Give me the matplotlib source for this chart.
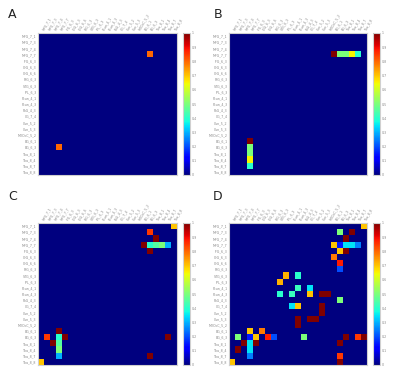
import numpy as np
import matplotlib
matplotlib.use("Agg")
import matplotlib.pyplot as plt

labels = ["MFG_7_1", "MFG_7_3", "MFG_7_4", "MFG_7_7", "IFG_6_3", "OrG_6_3", "OrG_6_6",
          "PrG_6_3", "STG_6_3", "IPL_6_3", "Pcun_4_1", "Pcun_4_3", "PoG_4_3", "CG_7_4",
          "Cun_5_2", "Cun_5_3", "MVOcC_5_2", "BG_6_1", "BG_6_3", "Tha_8_1", "Tha_8_4",
          "Tha_8_7", "Tha_8_8"]

# upper-triangle entries (row, col, value); matrices are symmetric
a_rows = [3]
a_cols = [18]
a_vals = [0.8]

b_rows = [3, 3, 3, 3, 3]
b_cols = [17, 18, 19, 20, 21]
b_vals = [1.0, 0.5, 0.5, 0.65, 0.4]

c_rows = [0, 1, 2, 3, 3, 3, 3, 3, 4, 18]
c_cols = [22, 18, 19, 17, 18, 19, 20, 21, 18, 21]
c_vals = [0.7, 0.85, 1.0, 1.0, 0.4, 0.45, 0.5, 0.3, 1.0, 1.0]

d_rows = [0, 1, 1, 2, 3, 3, 3, 3, 3, 4, 4, 5, 6, 7, 8, 8, 10, 10, 11, 11, 11, 12, 13, 14, 18, 18, 18]
d_cols = [22, 18, 20, 19, 17, 18, 19, 20, 21, 18, 19, 17, 18, 18, 9, 11, 11, 13, 13, 15, 16, 18, 15, 15, 19, 21, 22]
d_vals = [0.7, 0.5, 1.0, 1.0, 0.7, 0.15, 0.35, 0.35, 0.25, 0.7, 1.0, 0.78, 0.88, 0.2,
          0.72, 0.4, 0.42, 0.35, 0.7, 1.0, 1.0, 0.5, 1.0, 1.0, 1.0, 0.85, 1.0]

panels = [("A", a_rows, a_cols, a_vals), ("B", b_rows, b_cols, b_vals),
          ("C", c_rows, c_cols, c_vals), ("D", d_rows, d_cols, d_vals)]

W, H = 400, 374
fig = plt.figure(figsize=(W / 100, H / 100), dpi=100)

# pixel boxes: (x0, y0, x1, y1) for image, colorbar x-range, label pos
boxes = [((38, 33, 177, 175), (183, 190), (12, 14)),
         ((229, 33, 367, 175), (373, 380), (218, 14)),
         ((38, 223, 177, 365), (183, 190), (13, 197)),
         ((229, 223, 367, 365), (373, 380), (218, 197))]

def rect(x0, y0, x1, y1):
    return [x0 / W, 1 - y1 / H, (x1 - x0) / W, (y1 - y0) / H]

n = len(labels)
edge = "#d0d0d0"
for (name, rs, cs, vs), (ib, cb, lp) in zip(panels, boxes):
    m = np.zeros((n, n))
    for r, c, v in zip(rs, cs, vs):
        m[r, c] = v
        m[c, r] = v
    ax = fig.add_axes(rect(*ib))
    im = ax.imshow(m, cmap="jet", vmin=0, vmax=1, interpolation="nearest", aspect="auto")
    ax.xaxis.tick_top()
    ax.set_xticks(range(n))
    ax.set_xticklabels(labels, rotation=60, ha="left", va="bottom", fontsize=2.3, color="#888888")
    ax.set_yticks(range(n))
    ax.set_yticklabels(labels, fontsize=2.3, color="#888888")
    ax.tick_params(length=0, pad=1)
    for s in ax.spines.values():
        s.set_color(edge)
        s.set_linewidth(0.8)
    cax = fig.add_axes(rect(cb[0], ib[1], cb[1], ib[3]))
    cbar = fig.colorbar(im, cax=cax, ticks=np.arange(0, 1.01, 0.1))
    cbar.ax.set_yticklabels(["0"] + ["%.1f" % t for t in np.arange(0.1, 0.95, 0.1)] + ["1"])
    cbar.ax.tick_params(labelsize=2.3, length=0, pad=1, colors="#888888")
    cbar.outline.set_edgecolor(edge)
    cbar.outline.set_linewidth(0.8)
    fig.text(lp[0] / W, 1 - lp[1] / H, name, fontsize=9, ha="center", va="center", color="#222222")

fig.savefig("out.png", dpi=100)
